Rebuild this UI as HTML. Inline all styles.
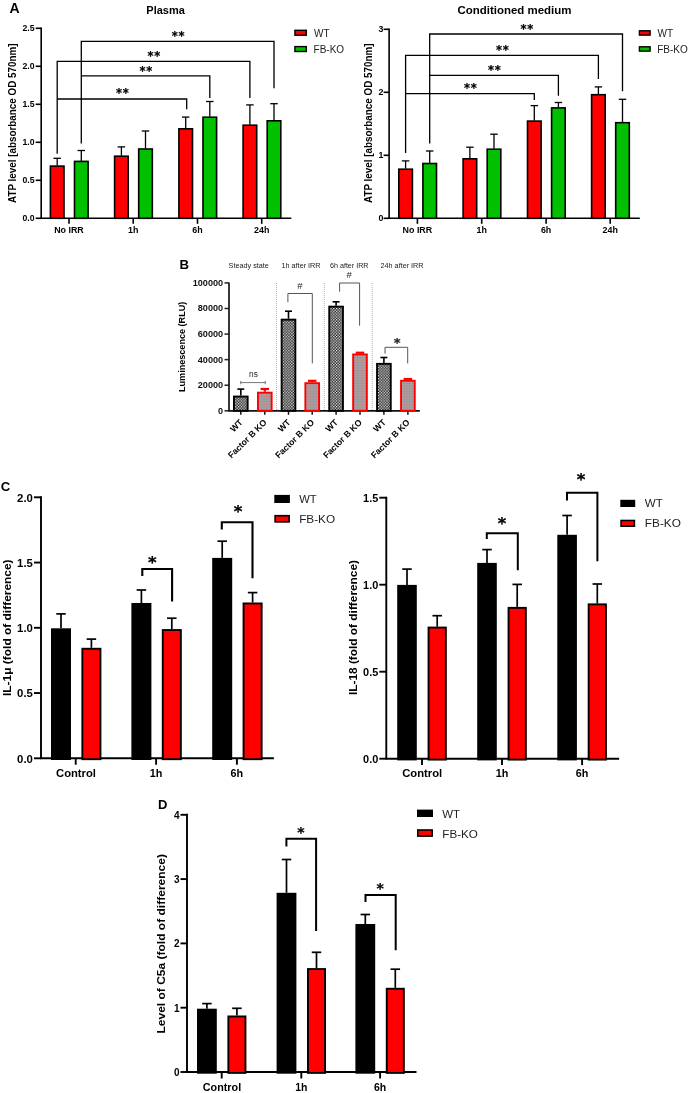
<!DOCTYPE html>
<html><head><meta charset="utf-8"><title>Figure</title>
<style>html,body{margin:0;padding:0;background:#fff;}svg{display:block;}</style>
</head><body>
<svg width="690" height="1093" viewBox="0 0 690 1093" font-family="'Liberation Sans', Arial, sans-serif">
<rect width="690" height="1093" fill="#fff"/>
<defs>
<pattern id="chk" width="2.8" height="2.8" patternUnits="userSpaceOnUse"><rect width="2.8" height="2.8" fill="#1a1a1a"/><rect x="0" y="0" width="1.3" height="1.3" fill="#f4f4f4"/><rect x="1.4" y="1.4" width="1.3" height="1.3" fill="#f4f4f4"/></pattern>
<pattern id="dots" width="2.6" height="2.6" patternUnits="userSpaceOnUse"><rect width="2.6" height="2.6" fill="#a4a0a2"/><rect x="0.8" y="0.8" width="1" height="1" fill="#c86a70"/></pattern>
</defs>
<text x="9.60" y="13.00" font-size="14" font-weight="bold" text-anchor="start" fill="#000">A</text>
<text x="165.60" y="13.60" font-size="11" font-weight="bold" text-anchor="middle" fill="#000">Plasma</text>
<line x1="41.20" y1="27.50" x2="41.20" y2="218.30" stroke="#000" stroke-width="1.6" />
<line x1="35.70" y1="218.30" x2="41.20" y2="218.30" stroke="#000" stroke-width="1.6" />
<text x="34.60" y="221.43" font-size="8.7" font-weight="bold" text-anchor="end" fill="#000">0.0</text>
<line x1="35.70" y1="180.30" x2="41.20" y2="180.30" stroke="#000" stroke-width="1.6" />
<text x="34.60" y="183.43" font-size="8.7" font-weight="bold" text-anchor="end" fill="#000">0.5</text>
<line x1="35.70" y1="142.30" x2="41.20" y2="142.30" stroke="#000" stroke-width="1.6" />
<text x="34.60" y="145.43" font-size="8.7" font-weight="bold" text-anchor="end" fill="#000">1.0</text>
<line x1="35.70" y1="104.30" x2="41.20" y2="104.30" stroke="#000" stroke-width="1.6" />
<text x="34.60" y="107.43" font-size="8.7" font-weight="bold" text-anchor="end" fill="#000">1.5</text>
<line x1="35.70" y1="66.30" x2="41.20" y2="66.30" stroke="#000" stroke-width="1.6" />
<text x="34.60" y="69.43" font-size="8.7" font-weight="bold" text-anchor="end" fill="#000">2.0</text>
<line x1="35.70" y1="28.30" x2="41.20" y2="28.30" stroke="#000" stroke-width="1.6" />
<text x="34.60" y="31.43" font-size="8.7" font-weight="bold" text-anchor="end" fill="#000">2.5</text>
<line x1="40.40" y1="218.30" x2="291.30" y2="218.30" stroke="#000" stroke-width="1.6" />
<line x1="69.00" y1="218.30" x2="69.00" y2="223.80" stroke="#000" stroke-width="1.6" />
<line x1="133.20" y1="218.30" x2="133.20" y2="223.80" stroke="#000" stroke-width="1.6" />
<line x1="197.50" y1="218.30" x2="197.50" y2="223.80" stroke="#000" stroke-width="1.6" />
<line x1="261.70" y1="218.30" x2="261.70" y2="223.80" stroke="#000" stroke-width="1.6" />
<line x1="57.20" y1="165.60" x2="57.20" y2="158.30" stroke="#000" stroke-width="1.3" />
<line x1="53.45" y1="158.30" x2="60.95" y2="158.30" stroke="#000" stroke-width="1.3" />
<line x1="81.30" y1="160.90" x2="81.30" y2="150.50" stroke="#000" stroke-width="1.3" />
<line x1="77.55" y1="150.50" x2="85.05" y2="150.50" stroke="#000" stroke-width="1.3" />
<rect x="50.40" y="166.10" width="13.60" height="52.20" fill="#ff0000" stroke="#000" stroke-width="1.6"/>
<rect x="74.50" y="161.40" width="13.60" height="56.90" fill="#00c000" stroke="#000" stroke-width="1.6"/>
<line x1="121.40" y1="155.70" x2="121.40" y2="146.90" stroke="#000" stroke-width="1.3" />
<line x1="117.65" y1="146.90" x2="125.15" y2="146.90" stroke="#000" stroke-width="1.3" />
<line x1="145.50" y1="148.50" x2="145.50" y2="131.00" stroke="#000" stroke-width="1.3" />
<line x1="141.75" y1="131.00" x2="149.25" y2="131.00" stroke="#000" stroke-width="1.3" />
<rect x="114.60" y="156.20" width="13.60" height="62.10" fill="#ff0000" stroke="#000" stroke-width="1.6"/>
<rect x="138.70" y="149.00" width="13.60" height="69.30" fill="#00c000" stroke="#000" stroke-width="1.6"/>
<line x1="185.70" y1="128.30" x2="185.70" y2="117.10" stroke="#000" stroke-width="1.3" />
<line x1="181.95" y1="117.10" x2="189.45" y2="117.10" stroke="#000" stroke-width="1.3" />
<line x1="209.80" y1="116.70" x2="209.80" y2="101.50" stroke="#000" stroke-width="1.3" />
<line x1="206.05" y1="101.50" x2="213.55" y2="101.50" stroke="#000" stroke-width="1.3" />
<rect x="178.90" y="128.80" width="13.60" height="89.50" fill="#ff0000" stroke="#000" stroke-width="1.6"/>
<rect x="203.00" y="117.20" width="13.60" height="101.10" fill="#00c000" stroke="#000" stroke-width="1.6"/>
<line x1="249.90" y1="124.70" x2="249.90" y2="104.90" stroke="#000" stroke-width="1.3" />
<line x1="246.15" y1="104.90" x2="253.65" y2="104.90" stroke="#000" stroke-width="1.3" />
<line x1="274.00" y1="120.30" x2="274.00" y2="103.70" stroke="#000" stroke-width="1.3" />
<line x1="270.25" y1="103.70" x2="277.75" y2="103.70" stroke="#000" stroke-width="1.3" />
<rect x="243.10" y="125.20" width="13.60" height="93.10" fill="#ff0000" stroke="#000" stroke-width="1.6"/>
<rect x="267.20" y="120.80" width="13.60" height="97.50" fill="#00c000" stroke="#000" stroke-width="1.6"/>
<text x="69.00" y="233.20" font-size="8.9" font-weight="bold" text-anchor="middle" fill="#000">No IRR</text>
<text x="133.20" y="233.20" font-size="8.9" font-weight="bold" text-anchor="middle" fill="#000">1h</text>
<text x="197.50" y="233.20" font-size="8.9" font-weight="bold" text-anchor="middle" fill="#000">6h</text>
<text x="261.70" y="233.20" font-size="8.9" font-weight="bold" text-anchor="middle" fill="#000">24h</text>
<polyline points="81.30,143.40 81.30,41.40 274.00,41.40 274.00,88.20" fill="none" stroke="#000" stroke-width="1.3" stroke-linecap="butt" stroke-linejoin="miter" />
<polyline points="57.20,153.80 57.20,61.40 249.90,61.40 249.90,98.00" fill="none" stroke="#000" stroke-width="1.3" stroke-linecap="butt" stroke-linejoin="miter" />
<polyline points="81.30,75.80 209.80,75.80 209.80,98.00" fill="none" stroke="#000" stroke-width="1.3" stroke-linecap="butt" stroke-linejoin="miter" />
<polyline points="57.20,99.00 186.70,99.00 186.70,109.20" fill="none" stroke="#000" stroke-width="1.3" stroke-linecap="butt" stroke-linejoin="miter" />
<text x="171.68" y="40.37" font-family="DejaVu Sans" font-size="11.5" font-weight="bold" fill="#000" stroke="#000" stroke-width="0.25" letter-spacing="0.75">**</text>
<text x="147.47" y="60.16" font-family="DejaVu Sans" font-size="11.5" font-weight="bold" fill="#000" stroke="#000" stroke-width="0.25" letter-spacing="0.75">**</text>
<text x="139.57" y="75.16" font-family="DejaVu Sans" font-size="11.5" font-weight="bold" fill="#000" stroke="#000" stroke-width="0.25" letter-spacing="0.75">**</text>
<text x="115.88" y="97.27" font-family="DejaVu Sans" font-size="11.5" font-weight="bold" fill="#000" stroke="#000" stroke-width="0.25" letter-spacing="0.75">**</text>
<text x="15.90" y="123.20" font-size="10.3" font-weight="bold" text-anchor="middle" fill="#000" transform="rotate(-90 15.9 123.2)" textLength="159.5" lengthAdjust="spacingAndGlyphs">ATP level [absorbance OD 570nm]</text>
<rect x="294.90" y="30.30" width="11.40" height="4.90" fill="#ff0000" stroke="#000" stroke-width="1.4"/>
<rect x="294.90" y="46.60" width="11.40" height="4.90" fill="#00c000" stroke="#000" stroke-width="1.4"/>
<text x="314.00" y="36.70" font-size="10" font-weight="normal" text-anchor="start" fill="#222">WT</text>
<text x="313.60" y="53.00" font-size="10" font-weight="normal" text-anchor="start" fill="#222">FB-KO</text>
<text x="514.50" y="14.30" font-size="11.6" font-weight="bold" text-anchor="middle" fill="#000" textLength="114" lengthAdjust="spacingAndGlyphs">Conditioned medium</text>
<line x1="389.10" y1="28.50" x2="389.10" y2="218.30" stroke="#000" stroke-width="1.6" />
<line x1="383.60" y1="218.30" x2="389.10" y2="218.30" stroke="#000" stroke-width="1.6" />
<text x="383.40" y="221.47" font-size="8.8" font-weight="bold" text-anchor="end" fill="#000">0</text>
<line x1="383.60" y1="155.30" x2="389.10" y2="155.30" stroke="#000" stroke-width="1.6" />
<text x="383.40" y="158.47" font-size="8.8" font-weight="bold" text-anchor="end" fill="#000">1</text>
<line x1="383.60" y1="92.30" x2="389.10" y2="92.30" stroke="#000" stroke-width="1.6" />
<text x="383.40" y="95.47" font-size="8.8" font-weight="bold" text-anchor="end" fill="#000">2</text>
<line x1="383.60" y1="29.30" x2="389.10" y2="29.30" stroke="#000" stroke-width="1.6" />
<text x="383.40" y="32.47" font-size="8.8" font-weight="bold" text-anchor="end" fill="#000">3</text>
<line x1="388.30" y1="218.30" x2="639.80" y2="218.30" stroke="#000" stroke-width="1.6" />
<line x1="417.40" y1="218.30" x2="417.40" y2="223.80" stroke="#000" stroke-width="1.6" />
<line x1="481.70" y1="218.30" x2="481.70" y2="223.80" stroke="#000" stroke-width="1.6" />
<line x1="546.10" y1="218.30" x2="546.10" y2="223.80" stroke="#000" stroke-width="1.6" />
<line x1="610.20" y1="218.30" x2="610.20" y2="223.80" stroke="#000" stroke-width="1.6" />
<line x1="405.60" y1="168.70" x2="405.60" y2="160.90" stroke="#000" stroke-width="1.3" />
<line x1="401.85" y1="160.90" x2="409.35" y2="160.90" stroke="#000" stroke-width="1.3" />
<line x1="429.70" y1="163.00" x2="429.70" y2="151.00" stroke="#000" stroke-width="1.3" />
<line x1="425.95" y1="151.00" x2="433.45" y2="151.00" stroke="#000" stroke-width="1.3" />
<rect x="398.80" y="169.20" width="13.60" height="49.10" fill="#ff0000" stroke="#000" stroke-width="1.6"/>
<rect x="422.90" y="163.50" width="13.60" height="54.80" fill="#00c000" stroke="#000" stroke-width="1.6"/>
<line x1="469.90" y1="158.30" x2="469.90" y2="147.20" stroke="#000" stroke-width="1.3" />
<line x1="466.15" y1="147.20" x2="473.65" y2="147.20" stroke="#000" stroke-width="1.3" />
<line x1="494.00" y1="148.70" x2="494.00" y2="134.20" stroke="#000" stroke-width="1.3" />
<line x1="490.25" y1="134.20" x2="497.75" y2="134.20" stroke="#000" stroke-width="1.3" />
<rect x="463.10" y="158.80" width="13.60" height="59.50" fill="#ff0000" stroke="#000" stroke-width="1.6"/>
<rect x="487.20" y="149.20" width="13.60" height="69.10" fill="#00c000" stroke="#000" stroke-width="1.6"/>
<line x1="534.30" y1="120.60" x2="534.30" y2="105.60" stroke="#000" stroke-width="1.3" />
<line x1="530.55" y1="105.60" x2="538.05" y2="105.60" stroke="#000" stroke-width="1.3" />
<line x1="558.40" y1="107.40" x2="558.40" y2="102.50" stroke="#000" stroke-width="1.3" />
<line x1="554.65" y1="102.50" x2="562.15" y2="102.50" stroke="#000" stroke-width="1.3" />
<rect x="527.50" y="121.10" width="13.60" height="97.20" fill="#ff0000" stroke="#000" stroke-width="1.6"/>
<rect x="551.60" y="107.90" width="13.60" height="110.40" fill="#00c000" stroke="#000" stroke-width="1.6"/>
<line x1="598.40" y1="94.20" x2="598.40" y2="86.90" stroke="#000" stroke-width="1.3" />
<line x1="594.65" y1="86.90" x2="602.15" y2="86.90" stroke="#000" stroke-width="1.3" />
<line x1="622.50" y1="122.20" x2="622.50" y2="99.30" stroke="#000" stroke-width="1.3" />
<line x1="618.75" y1="99.30" x2="626.25" y2="99.30" stroke="#000" stroke-width="1.3" />
<rect x="591.60" y="94.70" width="13.60" height="123.60" fill="#ff0000" stroke="#000" stroke-width="1.6"/>
<rect x="615.70" y="122.70" width="13.60" height="95.60" fill="#00c000" stroke="#000" stroke-width="1.6"/>
<text x="417.40" y="233.20" font-size="8.9" font-weight="bold" text-anchor="middle" fill="#000">No IRR</text>
<text x="481.70" y="233.20" font-size="8.9" font-weight="bold" text-anchor="middle" fill="#000">1h</text>
<text x="546.10" y="233.20" font-size="8.9" font-weight="bold" text-anchor="middle" fill="#000">6h</text>
<text x="610.20" y="233.20" font-size="8.9" font-weight="bold" text-anchor="middle" fill="#000">24h</text>
<polyline points="429.70,143.50 429.70,34.00 622.50,34.00 622.50,91.20" fill="none" stroke="#000" stroke-width="1.3" stroke-linecap="butt" stroke-linejoin="miter" />
<polyline points="405.60,153.00 405.60,55.30 598.40,55.30 598.40,79.10" fill="none" stroke="#000" stroke-width="1.3" stroke-linecap="butt" stroke-linejoin="miter" />
<polyline points="429.70,75.30 558.40,75.30 558.40,95.80" fill="none" stroke="#000" stroke-width="1.3" stroke-linecap="butt" stroke-linejoin="miter" />
<polyline points="405.60,93.60 534.30,93.60 534.30,99.90" fill="none" stroke="#000" stroke-width="1.3" stroke-linecap="butt" stroke-linejoin="miter" />
<text x="520.38" y="32.56" font-family="DejaVu Sans" font-size="11.5" font-weight="bold" fill="#000" stroke="#000" stroke-width="0.25" letter-spacing="0.75">**</text>
<text x="496.07" y="53.87" font-family="DejaVu Sans" font-size="11.5" font-weight="bold" fill="#000" stroke="#000" stroke-width="0.25" letter-spacing="0.75">**</text>
<text x="487.88" y="73.86" font-family="DejaVu Sans" font-size="11.5" font-weight="bold" fill="#000" stroke="#000" stroke-width="0.25" letter-spacing="0.75">**</text>
<text x="464.07" y="92.36" font-family="DejaVu Sans" font-size="11.5" font-weight="bold" fill="#000" stroke="#000" stroke-width="0.25" letter-spacing="0.75">**</text>
<text x="372.10" y="123.20" font-size="10.3" font-weight="bold" text-anchor="middle" fill="#000" transform="rotate(-90 372.1 123.2)" textLength="159.5" lengthAdjust="spacingAndGlyphs">ATP level [absorbance OD 570nm]</text>
<rect x="639.40" y="30.80" width="10.70" height="4.30" fill="#ff0000" stroke="#000" stroke-width="1.4"/>
<rect x="639.40" y="46.80" width="10.70" height="4.30" fill="#00c000" stroke="#000" stroke-width="1.4"/>
<text x="657.60" y="36.70" font-size="10" font-weight="normal" text-anchor="start" fill="#222">WT</text>
<text x="657.20" y="52.90" font-size="10" font-weight="normal" text-anchor="start" fill="#222">FB-KO</text>
<text x="179.40" y="269.10" font-size="13.2" font-weight="bold" text-anchor="start" fill="#000">B</text>
<text x="228.60" y="268.20" font-size="7.4" font-weight="normal" text-anchor="start" fill="#222" textLength="40.3" lengthAdjust="spacingAndGlyphs">Steady state</text>
<text x="281.50" y="268.20" font-size="7.4" font-weight="normal" text-anchor="start" fill="#222" textLength="39.09999999999998" lengthAdjust="spacingAndGlyphs">1h after IRR</text>
<text x="330.00" y="268.20" font-size="7.4" font-weight="normal" text-anchor="start" fill="#222" textLength="38.500000000000014" lengthAdjust="spacingAndGlyphs">6h after IRR</text>
<text x="380.50" y="268.20" font-size="7.4" font-weight="normal" text-anchor="start" fill="#222" textLength="43.09999999999998" lengthAdjust="spacingAndGlyphs">24h after IRR</text>
<line x1="276.50" y1="283.00" x2="276.50" y2="410.00" stroke="#999" stroke-width="0.8"  stroke-dasharray="0.9,1.1"/>
<line x1="324.40" y1="283.00" x2="324.40" y2="410.00" stroke="#999" stroke-width="0.8"  stroke-dasharray="0.9,1.1"/>
<line x1="372.20" y1="283.00" x2="372.20" y2="410.00" stroke="#999" stroke-width="0.8"  stroke-dasharray="0.9,1.1"/>
<line x1="229.00" y1="282.40" x2="229.00" y2="410.80" stroke="#222" stroke-width="1.8" />
<line x1="224.50" y1="410.80" x2="229.00" y2="410.80" stroke="#222" stroke-width="1.5" />
<text x="218.03" y="413.70" font-size="8.2" font-weight="bold" text-anchor="start" fill="#111" textLength="5.07" lengthAdjust="spacingAndGlyphs">0</text>
<line x1="224.50" y1="385.22" x2="229.00" y2="385.22" stroke="#222" stroke-width="1.5" />
<text x="197.75" y="388.12" font-size="8.2" font-weight="bold" text-anchor="start" fill="#111" textLength="25.35" lengthAdjust="spacingAndGlyphs">20000</text>
<line x1="224.50" y1="359.64" x2="229.00" y2="359.64" stroke="#222" stroke-width="1.5" />
<text x="197.75" y="362.54" font-size="8.2" font-weight="bold" text-anchor="start" fill="#111" textLength="25.35" lengthAdjust="spacingAndGlyphs">40000</text>
<line x1="224.50" y1="334.06" x2="229.00" y2="334.06" stroke="#222" stroke-width="1.5" />
<text x="197.75" y="336.96" font-size="8.2" font-weight="bold" text-anchor="start" fill="#111" textLength="25.35" lengthAdjust="spacingAndGlyphs">60000</text>
<line x1="224.50" y1="308.48" x2="229.00" y2="308.48" stroke="#222" stroke-width="1.5" />
<text x="197.75" y="311.38" font-size="8.2" font-weight="bold" text-anchor="start" fill="#111" textLength="25.35" lengthAdjust="spacingAndGlyphs">80000</text>
<line x1="224.50" y1="282.90" x2="229.00" y2="282.90" stroke="#222" stroke-width="1.5" />
<text x="192.68" y="285.80" font-size="8.2" font-weight="bold" text-anchor="start" fill="#111" textLength="30.42" lengthAdjust="spacingAndGlyphs">100000</text>
<line x1="228.10" y1="410.80" x2="419.80" y2="410.80" stroke="#111" stroke-width="1.8" />
<line x1="240.80" y1="410.80" x2="240.80" y2="414.80" stroke="#111" stroke-width="1.5" />
<line x1="264.80" y1="410.80" x2="264.80" y2="414.80" stroke="#111" stroke-width="1.5" />
<line x1="288.50" y1="410.80" x2="288.50" y2="414.80" stroke="#111" stroke-width="1.5" />
<line x1="312.20" y1="410.80" x2="312.20" y2="414.80" stroke="#111" stroke-width="1.5" />
<line x1="336.10" y1="410.80" x2="336.10" y2="414.80" stroke="#111" stroke-width="1.5" />
<line x1="360.00" y1="410.80" x2="360.00" y2="414.80" stroke="#111" stroke-width="1.5" />
<line x1="383.90" y1="410.80" x2="383.90" y2="414.80" stroke="#111" stroke-width="1.5" />
<line x1="407.90" y1="410.80" x2="407.90" y2="414.80" stroke="#111" stroke-width="1.5" />
<line x1="240.80" y1="395.60" x2="240.80" y2="389.10" stroke="#000" stroke-width="1.6" />
<line x1="237.30" y1="389.10" x2="244.30" y2="389.10" stroke="#000" stroke-width="1.6" />
<rect x="233.95" y="396.55" width="13.70" height="14.25" fill="url(#chk)" stroke="#000" stroke-width="1.9"/>
<line x1="264.80" y1="391.70" x2="264.80" y2="389.00" stroke="#ff0000" stroke-width="2.2" />
<line x1="260.55" y1="389.00" x2="269.05" y2="389.00" stroke="#ff0000" stroke-width="2.2" />
<rect x="257.95" y="392.65" width="13.70" height="18.15" fill="url(#dots)" stroke="#ff0000" stroke-width="1.9"/>
<line x1="288.50" y1="318.70" x2="288.50" y2="311.20" stroke="#000" stroke-width="1.6" />
<line x1="285.00" y1="311.20" x2="292.00" y2="311.20" stroke="#000" stroke-width="1.6" />
<rect x="281.65" y="319.65" width="13.70" height="91.15" fill="url(#chk)" stroke="#000" stroke-width="1.9"/>
<line x1="312.20" y1="382.20" x2="312.20" y2="380.80" stroke="#ff0000" stroke-width="2.2" />
<line x1="307.95" y1="380.80" x2="316.45" y2="380.80" stroke="#ff0000" stroke-width="2.2" />
<rect x="305.35" y="383.15" width="13.70" height="27.65" fill="url(#dots)" stroke="#ff0000" stroke-width="1.9"/>
<line x1="336.10" y1="305.70" x2="336.10" y2="301.80" stroke="#000" stroke-width="1.6" />
<line x1="332.60" y1="301.80" x2="339.60" y2="301.80" stroke="#000" stroke-width="1.6" />
<rect x="329.25" y="306.65" width="13.70" height="104.15" fill="url(#chk)" stroke="#000" stroke-width="1.9"/>
<line x1="360.00" y1="353.50" x2="360.00" y2="352.70" stroke="#ff0000" stroke-width="2.2" />
<line x1="355.75" y1="352.70" x2="364.25" y2="352.70" stroke="#ff0000" stroke-width="2.2" />
<rect x="353.15" y="354.45" width="13.70" height="56.35" fill="url(#dots)" stroke="#ff0000" stroke-width="1.9"/>
<line x1="383.90" y1="362.90" x2="383.90" y2="357.50" stroke="#000" stroke-width="1.6" />
<line x1="380.40" y1="357.50" x2="387.40" y2="357.50" stroke="#000" stroke-width="1.6" />
<rect x="377.05" y="363.85" width="13.70" height="46.95" fill="url(#chk)" stroke="#000" stroke-width="1.9"/>
<line x1="407.90" y1="379.80" x2="407.90" y2="379.00" stroke="#ff0000" stroke-width="2.2" />
<line x1="403.65" y1="379.00" x2="412.15" y2="379.00" stroke="#ff0000" stroke-width="2.2" />
<rect x="401.05" y="380.75" width="13.70" height="30.05" fill="url(#dots)" stroke="#ff0000" stroke-width="1.9"/>
<line x1="240.30" y1="382.60" x2="265.80" y2="382.60" stroke="#777" stroke-width="1.0" />
<line x1="240.80" y1="380.90" x2="240.80" y2="384.30" stroke="#777" stroke-width="1.0" />
<line x1="265.30" y1="380.90" x2="265.30" y2="384.30" stroke="#777" stroke-width="1.0" />
<text x="249.00" y="377.20" font-size="8.3" font-weight="normal" text-anchor="start" fill="#222" textLength="8.8" lengthAdjust="spacingAndGlyphs">ns</text>
<polyline points="287.90,302.20 287.90,293.50 312.30,293.50 312.30,363.40" fill="none" stroke="#555" stroke-width="1.0" stroke-linecap="butt" stroke-linejoin="miter" />
<text x="299.90" y="289.20" font-size="9.5" font-weight="normal" text-anchor="middle" fill="#222">#</text>
<polyline points="339.60,291.70 339.60,283.00 359.60,283.00 359.60,325.70" fill="none" stroke="#555" stroke-width="1.0" stroke-linecap="butt" stroke-linejoin="miter" />
<text x="349.10" y="277.90" font-size="9.5" font-weight="normal" text-anchor="middle" fill="#222">#</text>
<polyline points="385.00,353.60 385.00,347.30 407.70,347.30 407.70,363.40" fill="none" stroke="#555" stroke-width="1.0" stroke-linecap="butt" stroke-linejoin="miter" />
<text x="393.75" y="347.23" font-family="DejaVu Sans" font-size="13" font-weight="bold" fill="#222" stroke="#222" stroke-width="0.25">*</text>
<text x="185.40" y="346.85" font-size="8.8" font-weight="bold" text-anchor="middle" fill="#000" transform="rotate(-90 185.4 346.85)" textLength="90.3" lengthAdjust="spacingAndGlyphs">Luminescence (RLU)</text>
<text x="243.30" y="423.00" font-size="8.7" font-weight="bold" text-anchor="end" fill="#000" transform="rotate(-45 243.3 423)">WT</text>
<text x="267.30" y="423.00" font-size="8.7" font-weight="bold" text-anchor="end" fill="#000" transform="rotate(-45 267.3 423)">Factor B KO</text>
<text x="291.00" y="423.00" font-size="8.7" font-weight="bold" text-anchor="end" fill="#000" transform="rotate(-45 291.0 423)">WT</text>
<text x="314.70" y="423.00" font-size="8.7" font-weight="bold" text-anchor="end" fill="#000" transform="rotate(-45 314.7 423)">Factor B KO</text>
<text x="338.60" y="423.00" font-size="8.7" font-weight="bold" text-anchor="end" fill="#000" transform="rotate(-45 338.6 423)">WT</text>
<text x="362.50" y="423.00" font-size="8.7" font-weight="bold" text-anchor="end" fill="#000" transform="rotate(-45 362.5 423)">Factor B KO</text>
<text x="386.40" y="423.00" font-size="8.7" font-weight="bold" text-anchor="end" fill="#000" transform="rotate(-45 386.4 423)">WT</text>
<text x="410.40" y="423.00" font-size="8.7" font-weight="bold" text-anchor="end" fill="#000" transform="rotate(-45 410.4 423)">Factor B KO</text>
<text x="0.80" y="491.00" font-size="13.2" font-weight="bold" text-anchor="start" fill="#000">C</text>
<line x1="41.00" y1="496.35" x2="41.00" y2="758.30" stroke="#000" stroke-width="1.9" />
<line x1="34.00" y1="758.30" x2="41.00" y2="758.30" stroke="#000" stroke-width="1.9" />
<text x="32.90" y="762.70" font-size="10.5" font-weight="bold" text-anchor="end" fill="#000" textLength="15.8" lengthAdjust="spacingAndGlyphs">0.0</text>
<line x1="34.00" y1="693.05" x2="41.00" y2="693.05" stroke="#000" stroke-width="1.9" />
<text x="32.90" y="697.45" font-size="10.5" font-weight="bold" text-anchor="end" fill="#000" textLength="15.8" lengthAdjust="spacingAndGlyphs">0.5</text>
<line x1="34.00" y1="627.80" x2="41.00" y2="627.80" stroke="#000" stroke-width="1.9" />
<text x="32.90" y="632.20" font-size="10.5" font-weight="bold" text-anchor="end" fill="#000" textLength="15.8" lengthAdjust="spacingAndGlyphs">1.0</text>
<line x1="34.00" y1="562.55" x2="41.00" y2="562.55" stroke="#000" stroke-width="1.9" />
<text x="32.90" y="566.95" font-size="10.5" font-weight="bold" text-anchor="end" fill="#000" textLength="15.8" lengthAdjust="spacingAndGlyphs">1.5</text>
<line x1="34.00" y1="497.30" x2="41.00" y2="497.30" stroke="#000" stroke-width="1.9" />
<text x="32.90" y="501.70" font-size="10.5" font-weight="bold" text-anchor="end" fill="#000" textLength="15.8" lengthAdjust="spacingAndGlyphs">2.0</text>
<line x1="40.05" y1="758.30" x2="273.90" y2="758.30" stroke="#000" stroke-width="1.9" />
<line x1="75.70" y1="758.30" x2="75.70" y2="764.70" stroke="#000" stroke-width="1.9" />
<line x1="156.10" y1="758.30" x2="156.10" y2="764.70" stroke="#000" stroke-width="1.9" />
<line x1="236.90" y1="758.30" x2="236.90" y2="764.70" stroke="#000" stroke-width="1.9" />
<line x1="61.00" y1="628.30" x2="61.00" y2="613.90" stroke="#000" stroke-width="1.7" />
<line x1="56.25" y1="613.90" x2="65.75" y2="613.90" stroke="#000" stroke-width="1.7" />
<line x1="91.40" y1="647.80" x2="91.40" y2="639.10" stroke="#000" stroke-width="1.7" />
<line x1="86.65" y1="639.10" x2="96.15" y2="639.10" stroke="#000" stroke-width="1.7" />
<rect x="51.80" y="629.10" width="18.40" height="130.10" fill="#000" stroke="#000" stroke-width="1.6"/>
<rect x="82.35" y="648.75" width="18.10" height="110.45" fill="#ff0000" stroke="#000" stroke-width="1.9"/>
<line x1="141.40" y1="603.00" x2="141.40" y2="590.00" stroke="#000" stroke-width="1.7" />
<line x1="136.65" y1="590.00" x2="146.15" y2="590.00" stroke="#000" stroke-width="1.7" />
<line x1="171.80" y1="629.10" x2="171.80" y2="618.20" stroke="#000" stroke-width="1.7" />
<line x1="167.05" y1="618.20" x2="176.55" y2="618.20" stroke="#000" stroke-width="1.7" />
<rect x="132.20" y="603.80" width="18.40" height="155.40" fill="#000" stroke="#000" stroke-width="1.6"/>
<rect x="162.75" y="630.05" width="18.10" height="129.15" fill="#ff0000" stroke="#000" stroke-width="1.9"/>
<line x1="222.20" y1="557.90" x2="222.20" y2="541.20" stroke="#000" stroke-width="1.7" />
<line x1="217.45" y1="541.20" x2="226.95" y2="541.20" stroke="#000" stroke-width="1.7" />
<line x1="252.60" y1="602.50" x2="252.60" y2="592.60" stroke="#000" stroke-width="1.7" />
<line x1="247.85" y1="592.60" x2="257.35" y2="592.60" stroke="#000" stroke-width="1.7" />
<rect x="213.00" y="558.70" width="18.40" height="200.50" fill="#000" stroke="#000" stroke-width="1.6"/>
<rect x="243.55" y="603.45" width="18.10" height="155.75" fill="#ff0000" stroke="#000" stroke-width="1.9"/>
<text x="76.00" y="776.70" font-size="10.9" font-weight="bold" text-anchor="middle" fill="#000" textLength="40" lengthAdjust="spacingAndGlyphs">Control</text>
<text x="156.10" y="776.80" font-size="10.8" font-weight="bold" text-anchor="middle" fill="#000">1h</text>
<text x="236.90" y="776.80" font-size="10.8" font-weight="bold" text-anchor="middle" fill="#000">6h</text>
<polyline points="142.30,576.00 142.30,569.00 172.10,569.00 172.10,601.50" fill="none" stroke="#000" stroke-width="2.1" stroke-linecap="butt" stroke-linejoin="miter" />
<text x="147.88" y="568.31" font-family="DejaVu Sans" font-size="16.5" font-weight="bold" fill="#000" stroke="#000" stroke-width="0.25">*</text>
<polyline points="221.80,529.60 221.80,522.20 252.50,522.20 252.50,578.20" fill="none" stroke="#000" stroke-width="2.1" stroke-linecap="butt" stroke-linejoin="miter" />
<text x="233.68" y="516.72" font-family="DejaVu Sans" font-size="16.5" font-weight="bold" fill="#000" stroke="#000" stroke-width="0.25">*</text>
<text x="10.70" y="627.70" font-size="11.5" font-weight="bold" text-anchor="middle" fill="#000" transform="rotate(-90 10.7 627.7)" textLength="136.6" lengthAdjust="spacingAndGlyphs">IL-1μ (fold of difference)</text>
<rect x="274.30" y="494.90" width="15.60" height="8.10" fill="#000"/>
<rect x="275.10" y="515.70" width="14.00" height="6.20" fill="#ff0000" stroke="#000" stroke-width="1.6"/>
<text x="299.20" y="503.00" font-size="11.4" font-weight="normal" text-anchor="start" fill="#222" textLength="17.4" lengthAdjust="spacingAndGlyphs">WT</text>
<text x="299.20" y="522.90" font-size="11.4" font-weight="normal" text-anchor="start" fill="#222" textLength="35.9" lengthAdjust="spacingAndGlyphs">FB-KO</text>
<line x1="386.30" y1="496.85" x2="386.30" y2="758.70" stroke="#000" stroke-width="1.9" />
<line x1="379.30" y1="758.70" x2="386.30" y2="758.70" stroke="#000" stroke-width="1.9" />
<text x="378.30" y="762.90" font-size="10.1" font-weight="bold" text-anchor="end" fill="#000" textLength="15.2" lengthAdjust="spacingAndGlyphs">0.0</text>
<line x1="379.30" y1="671.70" x2="386.30" y2="671.70" stroke="#000" stroke-width="1.9" />
<text x="378.30" y="675.90" font-size="10.1" font-weight="bold" text-anchor="end" fill="#000" textLength="15.2" lengthAdjust="spacingAndGlyphs">0.5</text>
<line x1="379.30" y1="584.70" x2="386.30" y2="584.70" stroke="#000" stroke-width="1.9" />
<text x="378.30" y="588.90" font-size="10.1" font-weight="bold" text-anchor="end" fill="#000" textLength="15.2" lengthAdjust="spacingAndGlyphs">1.0</text>
<line x1="379.30" y1="497.70" x2="386.30" y2="497.70" stroke="#000" stroke-width="1.9" />
<text x="378.30" y="501.90" font-size="10.1" font-weight="bold" text-anchor="end" fill="#000" textLength="15.2" lengthAdjust="spacingAndGlyphs">1.5</text>
<line x1="385.35" y1="758.70" x2="619.10" y2="758.70" stroke="#000" stroke-width="1.9" />
<line x1="422.00" y1="758.70" x2="422.00" y2="765.10" stroke="#000" stroke-width="1.9" />
<line x1="502.00" y1="758.70" x2="502.00" y2="765.10" stroke="#000" stroke-width="1.9" />
<line x1="582.10" y1="758.70" x2="582.10" y2="765.10" stroke="#000" stroke-width="1.9" />
<line x1="407.00" y1="584.90" x2="407.00" y2="569.10" stroke="#000" stroke-width="1.7" />
<line x1="402.25" y1="569.10" x2="411.75" y2="569.10" stroke="#000" stroke-width="1.7" />
<line x1="437.20" y1="626.60" x2="437.20" y2="615.70" stroke="#000" stroke-width="1.7" />
<line x1="432.45" y1="615.70" x2="441.95" y2="615.70" stroke="#000" stroke-width="1.7" />
<rect x="398.00" y="585.70" width="18.00" height="173.90" fill="#000" stroke="#000" stroke-width="1.6"/>
<rect x="428.55" y="627.55" width="17.30" height="132.05" fill="#ff0000" stroke="#000" stroke-width="1.9"/>
<line x1="487.00" y1="562.90" x2="487.00" y2="549.60" stroke="#000" stroke-width="1.7" />
<line x1="482.25" y1="549.60" x2="491.75" y2="549.60" stroke="#000" stroke-width="1.7" />
<line x1="517.20" y1="606.90" x2="517.20" y2="584.40" stroke="#000" stroke-width="1.7" />
<line x1="512.45" y1="584.40" x2="521.95" y2="584.40" stroke="#000" stroke-width="1.7" />
<rect x="478.00" y="563.70" width="18.00" height="195.90" fill="#000" stroke="#000" stroke-width="1.6"/>
<rect x="508.55" y="607.85" width="17.30" height="151.75" fill="#ff0000" stroke="#000" stroke-width="1.9"/>
<line x1="567.10" y1="534.80" x2="567.10" y2="515.50" stroke="#000" stroke-width="1.7" />
<line x1="562.35" y1="515.50" x2="571.85" y2="515.50" stroke="#000" stroke-width="1.7" />
<line x1="597.30" y1="603.40" x2="597.30" y2="584.00" stroke="#000" stroke-width="1.7" />
<line x1="592.55" y1="584.00" x2="602.05" y2="584.00" stroke="#000" stroke-width="1.7" />
<rect x="558.10" y="535.60" width="18.00" height="224.00" fill="#000" stroke="#000" stroke-width="1.6"/>
<rect x="588.65" y="604.35" width="17.30" height="155.25" fill="#ff0000" stroke="#000" stroke-width="1.9"/>
<text x="422.20" y="776.70" font-size="10.9" font-weight="bold" text-anchor="middle" fill="#000" textLength="40" lengthAdjust="spacingAndGlyphs">Control</text>
<text x="502.00" y="776.80" font-size="10.8" font-weight="bold" text-anchor="middle" fill="#000">1h</text>
<text x="582.10" y="776.80" font-size="10.8" font-weight="bold" text-anchor="middle" fill="#000">6h</text>
<polyline points="486.80,539.00 486.80,533.30 517.80,533.30 517.80,570.20" fill="none" stroke="#000" stroke-width="2" stroke-linecap="butt" stroke-linejoin="miter" />
<text x="497.85" y="528.86" font-family="DejaVu Sans" font-size="16.2" font-weight="bold" fill="#000" stroke="#000" stroke-width="0.25">*</text>
<polyline points="567.00,500.40 567.00,492.80 597.40,492.80 597.40,561.30" fill="none" stroke="#000" stroke-width="2" stroke-linecap="butt" stroke-linejoin="miter" />
<text x="576.77" y="484.92" font-family="DejaVu Sans" font-size="16.5" font-weight="bold" fill="#000" stroke="#000" stroke-width="0.25">*</text>
<text x="356.80" y="627.55" font-size="11.5" font-weight="bold" text-anchor="middle" fill="#000" transform="rotate(-90 356.8 627.55)" textLength="135.1" lengthAdjust="spacingAndGlyphs">IL-18 (fold of difference)</text>
<rect x="620.30" y="499.80" width="14.90" height="7.20" fill="#000"/>
<rect x="621.10" y="520.50" width="13.30" height="5.70" fill="#ff0000" stroke="#000" stroke-width="1.6"/>
<text x="644.80" y="507.40" font-size="11.3" font-weight="normal" text-anchor="start" fill="#222" textLength="18" lengthAdjust="spacingAndGlyphs">WT</text>
<text x="644.80" y="527.40" font-size="11.3" font-weight="normal" text-anchor="start" fill="#222" textLength="36.1" lengthAdjust="spacingAndGlyphs">FB-KO</text>
<text x="158.00" y="808.50" font-size="13" font-weight="bold" text-anchor="start" fill="#000">D</text>
<line x1="187.00" y1="813.75" x2="187.00" y2="1072.00" stroke="#000" stroke-width="1.9" />
<line x1="180.50" y1="1072.00" x2="187.00" y2="1072.00" stroke="#000" stroke-width="1.9" />
<text x="179.60" y="1076.00" font-size="10" font-weight="bold" text-anchor="end" fill="#000">0</text>
<line x1="180.50" y1="1007.70" x2="187.00" y2="1007.70" stroke="#000" stroke-width="1.9" />
<text x="179.60" y="1011.70" font-size="10" font-weight="bold" text-anchor="end" fill="#000">1</text>
<line x1="180.50" y1="943.40" x2="187.00" y2="943.40" stroke="#000" stroke-width="1.9" />
<text x="179.60" y="947.40" font-size="10" font-weight="bold" text-anchor="end" fill="#000">2</text>
<line x1="180.50" y1="879.10" x2="187.00" y2="879.10" stroke="#000" stroke-width="1.9" />
<text x="179.60" y="883.10" font-size="10" font-weight="bold" text-anchor="end" fill="#000">3</text>
<line x1="180.50" y1="814.80" x2="187.00" y2="814.80" stroke="#000" stroke-width="1.9" />
<text x="179.60" y="818.80" font-size="10" font-weight="bold" text-anchor="end" fill="#000">4</text>
<line x1="186.05" y1="1072.00" x2="416.50" y2="1072.00" stroke="#000" stroke-width="1.9" />
<line x1="221.70" y1="1072.00" x2="221.70" y2="1078.50" stroke="#000" stroke-width="1.9" />
<line x1="301.30" y1="1072.00" x2="301.30" y2="1078.50" stroke="#000" stroke-width="1.9" />
<line x1="380.10" y1="1072.00" x2="380.10" y2="1078.50" stroke="#000" stroke-width="1.9" />
<line x1="206.90" y1="1008.70" x2="206.90" y2="1003.60" stroke="#000" stroke-width="1.7" />
<line x1="202.15" y1="1003.60" x2="211.65" y2="1003.60" stroke="#000" stroke-width="1.7" />
<line x1="236.90" y1="1015.50" x2="236.90" y2="1008.30" stroke="#000" stroke-width="1.7" />
<line x1="232.15" y1="1008.30" x2="241.65" y2="1008.30" stroke="#000" stroke-width="1.7" />
<rect x="197.80" y="1009.50" width="18.20" height="63.40" fill="#000" stroke="#000" stroke-width="1.6"/>
<rect x="228.35" y="1016.45" width="17.10" height="56.45" fill="#ff0000" stroke="#000" stroke-width="1.9"/>
<line x1="286.50" y1="892.80" x2="286.50" y2="859.50" stroke="#000" stroke-width="1.7" />
<line x1="281.75" y1="859.50" x2="291.25" y2="859.50" stroke="#000" stroke-width="1.7" />
<line x1="316.50" y1="968.10" x2="316.50" y2="952.30" stroke="#000" stroke-width="1.7" />
<line x1="311.75" y1="952.30" x2="321.25" y2="952.30" stroke="#000" stroke-width="1.7" />
<rect x="277.40" y="893.60" width="18.20" height="179.30" fill="#000" stroke="#000" stroke-width="1.6"/>
<rect x="307.95" y="969.05" width="17.10" height="103.85" fill="#ff0000" stroke="#000" stroke-width="1.9"/>
<line x1="365.30" y1="924.00" x2="365.30" y2="914.50" stroke="#000" stroke-width="1.7" />
<line x1="360.55" y1="914.50" x2="370.05" y2="914.50" stroke="#000" stroke-width="1.7" />
<line x1="395.30" y1="987.80" x2="395.30" y2="969.20" stroke="#000" stroke-width="1.7" />
<line x1="390.55" y1="969.20" x2="400.05" y2="969.20" stroke="#000" stroke-width="1.7" />
<rect x="356.20" y="924.80" width="18.20" height="148.10" fill="#000" stroke="#000" stroke-width="1.6"/>
<rect x="386.75" y="988.75" width="17.10" height="84.15" fill="#ff0000" stroke="#000" stroke-width="1.9"/>
<text x="222.00" y="1090.60" font-size="10.5" font-weight="bold" text-anchor="middle" fill="#000" textLength="38.3" lengthAdjust="spacingAndGlyphs">Control</text>
<text x="301.30" y="1090.60" font-size="10.5" font-weight="bold" text-anchor="middle" fill="#000">1h</text>
<text x="380.10" y="1090.60" font-size="10.5" font-weight="bold" text-anchor="middle" fill="#000">6h</text>
<polyline points="286.40,846.40 286.40,838.70 316.10,838.70 316.10,931.00" fill="none" stroke="#000" stroke-width="2" stroke-linecap="butt" stroke-linejoin="miter" />
<text x="297.15" y="836.84" font-family="DejaVu Sans" font-size="14" font-weight="bold" fill="#000" stroke="#000" stroke-width="0.25">*</text>
<polyline points="365.50,902.00 365.50,895.10 395.70,895.10 395.70,950.30" fill="none" stroke="#000" stroke-width="2" stroke-linecap="butt" stroke-linejoin="miter" />
<text x="376.40" y="893.04" font-family="DejaVu Sans" font-size="14" font-weight="bold" fill="#000" stroke="#000" stroke-width="0.25">*</text>
<text x="165.40" y="943.80" font-size="11.3" font-weight="bold" text-anchor="middle" fill="#000" transform="rotate(-90 165.4 943.8)" textLength="179.5" lengthAdjust="spacingAndGlyphs">Level of C5a (fold of difference)</text>
<rect x="417.00" y="809.60" width="16.00" height="7.40" fill="#000"/>
<rect x="417.80" y="830.00" width="14.40" height="6.10" fill="#ff0000" stroke="#000" stroke-width="1.6"/>
<text x="442.30" y="817.90" font-size="11.3" font-weight="normal" text-anchor="start" fill="#222" textLength="17.7" lengthAdjust="spacingAndGlyphs">WT</text>
<text x="442.30" y="837.70" font-size="11.3" font-weight="normal" text-anchor="start" fill="#222" textLength="35.6" lengthAdjust="spacingAndGlyphs">FB-KO</text>
</svg>
</body></html>
